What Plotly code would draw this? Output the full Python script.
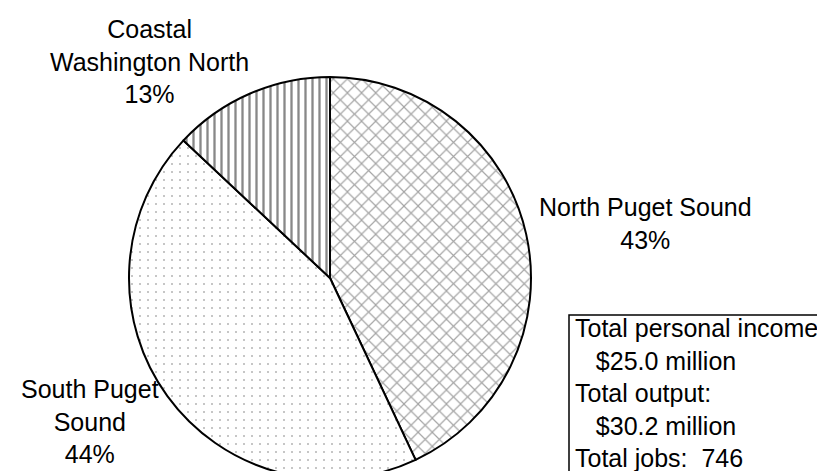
import plotly.graph_objects as go

# regional shares (percent), clockwise from 12 o'clock
regions = ["North Puget Sound", "South Puget Sound", "Coastal Washington North"]
shares = [43, 44, 13]
label_lines = [["North Puget Sound"], ["South Puget", "Sound"], ["Coastal", "Washington North"]]

totals_text = ["Total personal income:", "   $25.0 million", "Total output:",
               "   $30.2 million", "Total jobs:  746"]

W, H = 825, 471
FONT = "Liberation Sans, Arial, sans-serif"


def px(x, y):
    return x / W, 1 - y / H


fig = go.Figure()
fig.add_trace(go.Pie(
    labels=regions, values=shares, sort=False, direction="clockwise", rotation=0,
    textinfo="none", hoverinfo="label+percent", showlegend=False,
    marker=dict(
        colors=["white", "white", "white"],
        line=dict(color="black", width=2),
        pattern=dict(shape=["x", ".", "|"], fgcolor=["#4a4a4a", "#666666", "#111111"],
                     bgcolor="white", size=[10, 8, 7], solidity=[0.22, 0.05, 0.33],
                     fillmode="overlay"),
    ),
    domain=dict(x=[(322 - 201) / W, (322 + 201) / W], y=[1 - 471 / H, 1 - 69 / H]),
))

# slice labels
label_pos = [(637, 215), (82, 413), (141, 54)]
for lines, v, (x, y) in zip(label_lines, shares, label_pos):
    ax, ay = px(x, y)
    fig.add_annotation(x=ax, y=ay, xref="paper", yref="paper", showarrow=False,
                       text="<br>".join(lines + [f"{v}%"]), align="center",
                       xanchor="center", yanchor="middle",
                       font=dict(family=FONT, size=25, color="black"))

# totals box
bx, by = px(561, 307)
fig.add_shape(type="rect", xref="paper", yref="paper", x0=bx, y0=-0.05, x1=1.05, y1=by,
              line=dict(color="black", width=1.5), fillcolor="rgba(0,0,0,0)")
tx, ty = px(565, 385)
fig.add_annotation(x=tx, y=ty, xref="paper", yref="paper", showarrow=False,
                   text="<br>".join(t.replace(" ", "\u00a0") for t in totals_text),
                   align="left", xanchor="left", yanchor="middle",
                   font=dict(family=FONT, size=25, color="black"))

fig.update_layout(width=W, height=H, margin=dict(l=0, r=0, t=0, b=0),
                  paper_bgcolor="white", plot_bgcolor="white")

fig.write_html("out.html")
